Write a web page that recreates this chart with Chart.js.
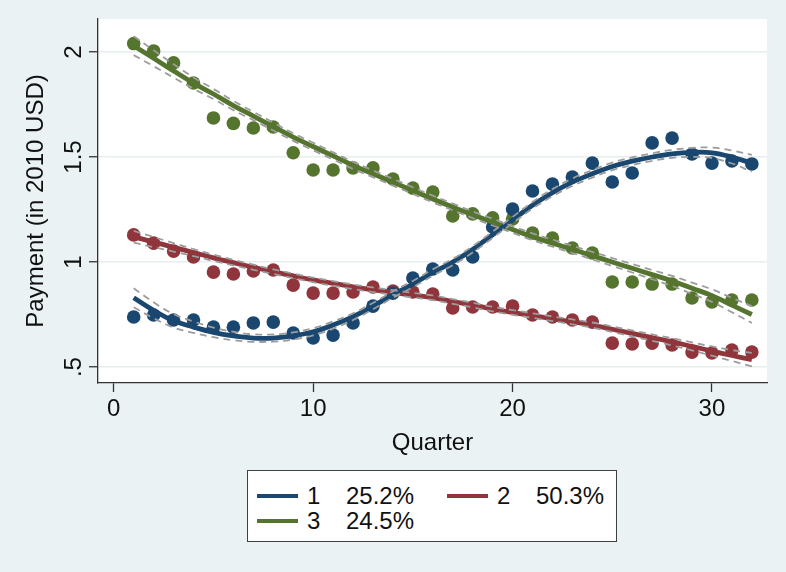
<!DOCTYPE html>
<html>
<head>
<title>Payment by Quarter</title>
<script src="https://cdn.jsdelivr.net/npm/chart.js"></script>
<style>
  body { margin: 0; background: #eaf2f3; }
  #wrap { position: relative; width: 786px; height: 572px; }
  .legend {
    position: absolute; left: 247px; top: 470px; width: 368px; height: 70px;
    background: #fff; border: 1px solid #404040;
    font-family: "Liberation Sans", Arial, sans-serif; font-size: 24px; color: #111;
  }
  .item { position: absolute; height: 26px; line-height: 26px; width: 170px; }
  .swatch { position: absolute; left: 0; top: 11px; width: 41px; height: 4px; }
  .num { position: absolute; left: 50px; }
  .pct { position: absolute; left: 89px; }
</style>
</head>
<body>
<div id="wrap">
  <canvas id="trajChart" width="786" height="572"></canvas>
  <div class="legend" id="legend"></div>
</div>

<script>
// x values
var quarters = [1,2,3,4,5,6,7,8,9,10,11,12,13,14,15,16,17,18,19,20,21,22,23,24,25,26,27,28,29,30,31,32];

// observed group means (dots)
var obs1 = [0.738,0.748,0.724,0.724,0.69,0.69,0.71,0.714,0.662,0.638,0.652,0.71,0.79,0.852,0.924,0.967,0.962,1.024,1.167,1.252,1.338,1.371,1.405,1.471,1.381,1.424,1.567,1.59,1.514,1.471,1.481,1.467];
var obs2 = [1.129,1.09,1.052,1.024,0.952,0.943,0.957,0.962,0.89,0.852,0.852,0.857,0.881,0.862,0.857,0.848,0.781,0.786,0.786,0.79,0.748,0.738,0.724,0.714,0.614,0.61,0.614,0.605,0.571,0.567,0.581,0.571];
var obs3 = [2.04,2.005,1.948,1.852,1.686,1.66,1.638,1.643,1.52,1.438,1.438,1.448,1.448,1.395,1.352,1.333,1.219,1.229,1.21,1.205,1.138,1.114,1.067,1.043,0.905,0.905,0.895,0.895,0.829,0.81,0.819,0.819];

// fitted trajectories
var fit1 = [0.83,0.77,0.72,0.69,0.665,0.648,0.638,0.638,0.648,0.668,0.70,0.74,0.79,0.845,0.895,0.95,1.00,1.06,1.13,1.20,1.27,1.33,1.38,1.42,1.455,1.48,1.50,1.515,1.522,1.52,1.50,1.47];
var fit2 = [1.12,1.095,1.07,1.045,1.02,0.997,0.975,0.954,0.934,0.915,0.898,0.882,0.868,0.855,0.842,0.83,0.812,0.795,0.776,0.76,0.745,0.73,0.715,0.70,0.68,0.66,0.64,0.62,0.598,0.576,0.555,0.535];
var fit3 = [2.03,1.97,1.91,1.852,1.80,1.745,1.695,1.645,1.595,1.55,1.505,1.46,1.42,1.38,1.34,1.30,1.262,1.225,1.19,1.155,1.12,1.09,1.06,1.03,1.00,0.97,0.94,0.91,0.875,0.84,0.795,0.75];

// confidence bands (dashed)
var ci1Up = [0.875,0.808,0.752,0.717,0.688,0.668,0.656,0.655,0.665,0.685,0.717,0.756,0.805,0.86,0.91,0.965,1.015,1.075,1.145,1.215,1.286,1.347,1.398,1.438,1.473,1.498,1.518,1.534,1.543,1.545,1.531,1.51];
var ci1Lo = [0.785,0.732,0.688,0.663,0.642,0.628,0.62,0.621,0.631,0.651,0.683,0.724,0.775,0.83,0.88,0.935,0.985,1.045,1.115,1.185,1.254,1.313,1.362,1.402,1.437,1.462,1.482,1.496,1.501,1.495,1.469,1.43];
var ci2Up = [1.148,1.119,1.09,1.062,1.035,1.01,0.987,0.965,0.945,0.926,0.909,0.893,0.879,0.866,0.853,0.841,0.823,0.806,0.787,0.771,0.756,0.741,0.727,0.712,0.693,0.674,0.655,0.637,0.617,0.598,0.581,0.567];
var ci2Lo = [1.092,1.071,1.05,1.028,1.005,0.984,0.963,0.943,0.923,0.904,0.887,0.871,0.857,0.844,0.831,0.819,0.801,0.784,0.765,0.749,0.734,0.719,0.703,0.688,0.667,0.646,0.625,0.603,0.579,0.554,0.529,0.503];
var ci3Up = [2.075,2.008,1.942,1.879,1.824,1.767,1.715,1.664,1.613,1.568,1.522,1.477,1.436,1.396,1.356,1.316,1.278,1.241,1.206,1.171,1.136,1.107,1.077,1.048,1.019,0.99,0.962,0.934,0.902,0.87,0.829,0.79];
var ci3Lo = [1.985,1.932,1.878,1.825,1.776,1.723,1.675,1.626,1.577,1.532,1.488,1.443,1.404,1.364,1.324,1.284,1.246,1.209,1.174,1.139,1.104,1.073,1.043,1.012,0.981,0.95,0.918,0.886,0.848,0.81,0.761,0.71];

// ticks and legend text
var xTicks = [0, 10, 20, 30];
var yTicks = [0.5, 1, 1.5, 2];
var yTickLabels = ['.5', '1', '1.5', '2'];
var groupNames = ['1', '2', '3'];
var groupShares = ['25.2%', '50.3%', '24.5%'];

var colors = ['#1a476f', '#90353b', '#55752f'];
var FONT = '"Liberation Sans", Arial, sans-serif';

function pts(arr) {
    return quarters.map(function(q, i) { return { x: q, y: arr[i] }; });
}

function dots(arr, c) {
    return { data: pts(arr), showLine: false, pointRadius: 6.8, pointBorderWidth: 0,
             pointBackgroundColor: c, backgroundColor: c, order: 3 };
}
function fitLine(arr, c) {
    return { data: pts(arr), showLine: true, pointRadius: 0, borderColor: c,
             borderWidth: 4.8, tension: 0.4, order: 2 };
}
function band(arr) {
    return { data: pts(arr), showLine: true, pointRadius: 0, borderColor: '#9c9c9c',
             borderWidth: 1.8, borderDash: [7, 5], tension: 0.4, order: 1 };
}

// white plot region
var plotBg = {
    id: 'plotBg',
    beforeDraw: function(chart) {
        var a = chart.chartArea, ctx = chart.ctx;
        ctx.save();
        ctx.fillStyle = '#ffffff';
        ctx.fillRect(a.left, a.top, a.right - a.left, a.bottom - a.top);
        ctx.restore();
    }
};

// rotated y tick labels, stata style
var yLabels = {
    id: 'yLabels',
    afterDraw: function(chart) {
        var ctx = chart.ctx, y = chart.scales.y;
        ctx.save();
        ctx.font = '24px ' + FONT;
        ctx.fillStyle = '#111';
        ctx.textAlign = 'center';
        ctx.textBaseline = 'middle';
        yTicks.forEach(function(v, i) {
            ctx.save();
            ctx.translate(y.right - 24, y.getPixelForValue(v));
            ctx.rotate(-Math.PI / 2);
            ctx.fillText(yTickLabels[i], 0, 0);
            ctx.restore();
        });
        ctx.restore();
    }
};

new Chart(document.getElementById('trajChart').getContext('2d'), {
    type: 'scatter',
    data: {
        datasets: [
            dots(obs1, colors[0]), dots(obs2, colors[1]), dots(obs3, colors[2]),
            fitLine(fit1, colors[0]), fitLine(fit2, colors[1]), fitLine(fit3, colors[2]),
            band(ci1Up), band(ci1Lo), band(ci2Up), band(ci2Lo), band(ci3Up), band(ci3Lo)
        ]
    },
    options: {
        responsive: false,
        animation: false,
        layout: { padding: { left: 0, top: 19, right: 19, bottom: 109 } },
        plugins: { legend: { display: false }, tooltip: { enabled: false } },
        scales: {
            x: {
                type: 'linear',
                min: -0.79, max: 32.76,
                afterBuildTicks: function(s) { s.ticks = xTicks.map(function(v) { return { value: v }; }); },
                afterFit: function(s) { s.height = 80; },
                ticks: { color: '#111', font: { family: FONT, size: 24 }, padding: 3, maxRotation: 0 },
                grid: { drawOnChartArea: false, tickLength: 9, tickColor: '#333', tickWidth: 1.3 },
                border: { color: '#333', width: 1.3 },
                title: { display: true, text: 'Quarter', color: '#111',
                         font: { family: FONT, size: 24 }, padding: { top: 0, bottom: 5 } }
            },
            y: {
                min: 0.424, max: 2.157,
                afterBuildTicks: function(s) { s.ticks = yTicks.map(function(v) { return { value: v }; }); },
                afterFit: function(s) { s.width = 98; },
                ticks: { display: false },
                grid: { color: '#e6eef0', lineWidth: 1.5, tickLength: 9, tickColor: '#333', tickWidth: 1.3 },
                border: { color: '#333', width: 1.3 },
                title: { display: true, text: 'Payment (in 2010 USD)', color: '#111',
                         font: { family: FONT, size: 24 }, padding: { top: 22, bottom: 0 } }
            }
        }
    },
    plugins: [plotBg, yLabels]
});

// legend box
var lg = document.getElementById('legend');
var spots = [[9, 12], [199, 12], [9, 37]];
groupNames.forEach(function(n, i) {
    var it = document.createElement('div');
    it.className = 'item';
    it.style.left = spots[i][0] + 'px';
    it.style.top = spots[i][1] + 'px';
    it.innerHTML = '<span class="swatch" style="background:' + colors[i] + '"></span>' +
                   '<span class="num">' + n + '</span><span class="pct">' + groupShares[i] + '</span>';
    lg.appendChild(it);
});
</script>
</body>
</html>
